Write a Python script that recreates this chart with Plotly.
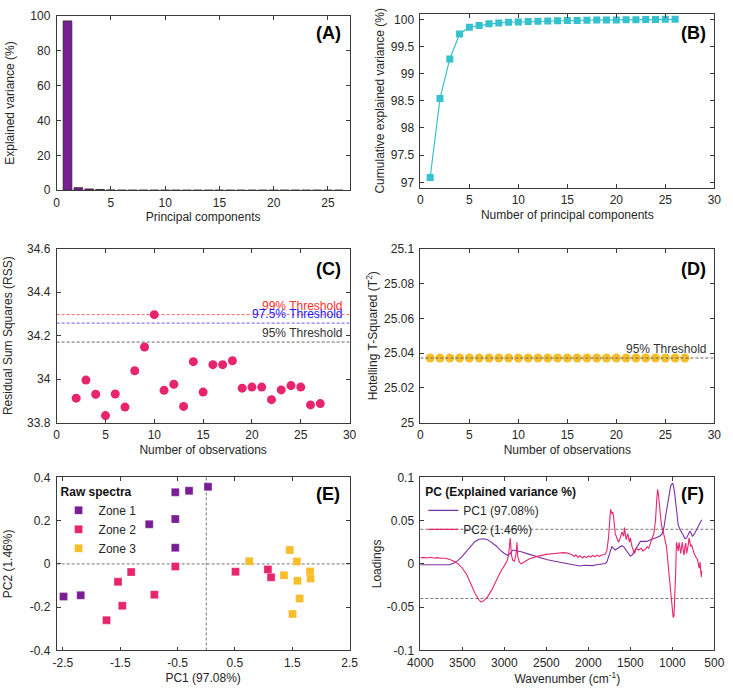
import plotly.graph_objects as go

W, H = 733, 695

# ---------------- Data ----------------
pc_index = list(range(1, 27))
explained_var = [97.08, 1.46, 0.74, 0.45, 0.13, 0.03, 0.03, 0.02, 0.012, 0.006, 0.006, 0.005,
                 0.005, 0.003, 0.004, 0.003, 0.003, 0.003, 0.002, 0.002, 0.002, 0.002, 0.002,
                 0.002, 0.001, 0.001]
cumulative_var = [97.09, 98.545, 99.27, 99.73, 99.855, 99.885, 99.916, 99.934, 99.946, 99.952,
                  99.958, 99.963, 99.968, 99.972, 99.976, 99.979, 99.982, 99.985, 99.987, 99.989,
                  99.991, 99.993, 99.995, 99.997, 99.999, 100.0]

rss_obs = list(range(2, 28))
rss_vals = [33.913, 33.996, 33.931, 33.833, 33.932, 33.872, 34.039, 34.148, 34.297, 33.949,
            33.977, 33.875, 34.081, 33.941, 34.067, 34.067, 34.085, 33.959, 33.964, 33.964,
            33.906, 33.951, 33.971, 33.964, 33.882, 33.888]
rss_thr_99 = 34.297
rss_thr_975 = 34.258
rss_thr_95 = 34.171

t2_obs = list(range(1, 28))
t2_vals = [25.0372] * 27
t2_thr_95 = 25.0372

zone1_pc1 = [0.03, -0.30, -0.54, -0.54, -0.995, -0.54, -2.49, -2.19]
zone1_pc2 = [0.356, 0.338, 0.331, 0.207, 0.183, 0.075, -0.151, -0.145]
zone2_pc1 = [-0.54, -1.31, -1.54, -0.905, -1.465, -1.74, 0.51, 1.075, 1.13]
zone2_pc2 = [-0.012, -0.038, -0.083, -0.142, -0.193, -0.26, -0.036, -0.026, -0.062]
zone3_pc1 = [0.75, 1.455, 1.58, 1.355, 1.59, 1.81, 1.82, 1.63, 1.505]
zone3_pc2 = [0.012, 0.064, 0.011, -0.053, -0.078, -0.035, -0.068, -0.16, -0.231]

pc1_wn = [4000, 3900, 3800, 3700, 3650, 3600, 3550, 3500, 3450, 3400, 3350, 3300, 3250, 3200,
          3150, 3100, 3050, 3000, 2960, 2930, 2900, 2850, 2800, 2700, 2600, 2500, 2400, 2300,
          2200, 2150, 2100, 2050, 2000, 1950, 1900, 1850, 1800, 1780, 1760, 1740, 1720, 1700,
          1680, 1650, 1620, 1600, 1580, 1550, 1520, 1500, 1480, 1450, 1420, 1400, 1380, 1350,
          1300, 1280, 1250, 1200, 1150, 1120, 1100, 1080, 1060, 1040, 1020, 1000, 990, 970,
          950, 930, 910, 890, 870, 850, 830, 810, 790, 780, 760, 740, 720, 700, 680, 660, 650]
pc1_load = [-0.001, -0.0012, -0.0015, -0.0015, -0.001, 0.001, 0.004, 0.009, 0.015, 0.021,
            0.026, 0.0285, 0.029, 0.028, 0.025, 0.021, 0.016, 0.012, 0.010, 0.012, 0.016,
            0.015, 0.014, 0.011, 0.008, 0.005, 0.003, 0.001, -0.001, -0.002, -0.0025, -0.0015,
            -0.002, -0.002, -0.001, 0.0, 0.0005, 0.002, 0.008, 0.015, 0.020, 0.018, 0.016,
            0.018, 0.020, 0.021, 0.020, 0.016, 0.012, 0.009, 0.010, 0.015, 0.020, 0.024, 0.026,
            0.026, 0.026, 0.027, 0.028, 0.030, 0.032, 0.035, 0.042, 0.055, 0.068, 0.080, 0.090,
            0.093, 0.092, 0.080, 0.060, 0.045, 0.040, 0.037, 0.033, 0.029, 0.030, 0.034, 0.038,
            0.036, 0.032, 0.034, 0.038, 0.042, 0.046, 0.049, 0.051]

pc2_wn = [4000, 3960, 3920, 3880, 3840, 3800, 3760, 3720, 3700, 3650, 3600, 3550, 3500, 3450,
          3400, 3350, 3300, 3280, 3250, 3200, 3150, 3100, 3050, 3000, 2970, 2950, 2930, 2915,
          2900, 2880, 2860, 2850, 2840, 2820, 2800, 2750, 2700, 2600, 2500, 2400, 2300, 2250,
          2200, 2170, 2150, 2120, 2100, 2070, 2050, 2020, 2000, 1970, 1950, 1920, 1900, 1870,
          1850, 1800, 1780, 1760, 1745, 1735, 1720, 1710, 1700, 1690, 1680, 1660, 1640, 1620,
          1600, 1580, 1570, 1550, 1530, 1510, 1500, 1480, 1450, 1430, 1400, 1370, 1350, 1320,
          1300, 1280, 1260, 1240, 1220, 1200, 1185, 1175, 1165, 1150, 1130, 1110, 1090, 1070,
          1060, 1050, 1040, 1030, 1020, 1010, 1000, 990, 980, 970, 960, 955, 950, 940, 930,
          920, 910, 900, 890, 880, 870, 860, 850, 840, 830, 820, 810, 800, 790, 780, 770, 760,
          740, 720, 700, 690, 680, 670, 660, 655, 650]
pc2_load = [0.007, 0.0075, 0.0068, 0.0076, 0.0069, 0.0072, 0.0066, 0.0071, 0.0065, 0.005,
            0.003, 0.0, -0.005, -0.012, -0.022, -0.034, -0.042, -0.044, -0.043, -0.038, -0.030,
            -0.020, -0.010, -0.002, 0.003, 0.010, 0.030, 0.010, 0.004, 0.003, 0.012, 0.025,
            0.008, 0.002, 0.0, 0.003, 0.006, 0.009, 0.011, 0.012, 0.013, 0.0125, 0.011, 0.0085,
            0.0105, 0.0075, 0.0095, 0.0068, 0.0088, 0.0072, 0.0092, 0.0078, 0.0098, 0.0082,
            0.0102, 0.0088, 0.010, 0.011, 0.015, 0.030, 0.055, 0.063, 0.058, 0.060, 0.055, 0.045,
            0.035, 0.030, 0.025, 0.030, 0.037, 0.032, 0.042, 0.028, 0.035, 0.025, 0.030, 0.020,
            0.012, 0.018, 0.016, 0.018, 0.015, 0.017, 0.020, 0.018, 0.025, 0.030, 0.035, 0.050,
            0.075, 0.086, 0.080, 0.060, 0.045, 0.038, 0.030, 0.020, 0.010, 0.0, -0.010, -0.020,
            -0.030, -0.040, -0.052, -0.062, -0.060, -0.040, -0.010, 0.010, 0.025, 0.020, 0.015,
            0.025, 0.018, 0.012, 0.020, 0.025, 0.015, 0.010, 0.020, 0.024, 0.012, 0.016, 0.022,
            0.030, 0.025, 0.020, 0.022, 0.018, 0.012, 0.008, 0.005, 0.0, -0.005, 0.002, -0.008,
            -0.015, -0.008]
loading_thr = 0.04

# ---------------- Styling ----------------
FONT = "Arial, Liberation Sans, Helvetica, sans-serif"
TXT = "#262626"
PURPLE = "#7B1E96"
PINK = "#E8246F"
YELLOW = "#F7BE2A"
CYAN = "#35C2CE"


def px_x(p):
    return p / W


def px_y(p):
    return 1 - p / H


fig = go.Figure()

# Panel A
fig.add_trace(go.Bar(x=pc_index, y=explained_var, width=0.8, marker=dict(color=PURPLE, line=dict(color="#222", width=0.8)),
                     showlegend=False, xaxis="x", yaxis="y"))
# Panel B
fig.add_trace(go.Scatter(x=pc_index, y=cumulative_var, mode="lines+markers", line=dict(color=CYAN, width=1.2),
                         marker=dict(symbol="square", size=7, color=CYAN), showlegend=False, xaxis="x2", yaxis="y2"))
# Panel C thresholds (below markers)
for val, col in [(rss_thr_99, "#FF6060"), (rss_thr_975, "#5A5AFF"), (rss_thr_95, "#666666")]:
    fig.add_trace(go.Scatter(x=[0, 30], y=[val, val], mode="lines", line=dict(color=col, width=1, dash="3px,2px"),
                             showlegend=False, xaxis="x3", yaxis="y3", hoverinfo="skip"))
fig.add_trace(go.Scatter(x=rss_obs, y=rss_vals, mode="markers", marker=dict(size=9, color=PINK),
                         showlegend=False, xaxis="x3", yaxis="y3"))
# Panel D
fig.add_trace(go.Scatter(x=t2_obs, y=t2_vals, mode="markers", marker=dict(size=9, color=YELLOW),
                         showlegend=False, xaxis="x4", yaxis="y4"))
fig.add_trace(go.Scatter(x=[0, 30], y=[t2_thr_95, t2_thr_95], mode="lines", line=dict(color="#666666", width=1, dash="3px,2px"),
                         showlegend=False, xaxis="x4", yaxis="y4", hoverinfo="skip"))
# Panel E
for name, xs, ys, col in [("Zone 1", zone1_pc1, zone1_pc2, PURPLE), ("Zone 2", zone2_pc1, zone2_pc2, PINK),
                          ("Zone 3", zone3_pc1, zone3_pc2, YELLOW)]:
    fig.add_trace(go.Scatter(x=xs, y=ys, mode="markers", name=name,
                             marker=dict(symbol="square", size=8, color=col, line=dict(color="rgba(255,255,255,0.6)", width=0.5)),
                             xaxis="x5", yaxis="y5", legend="legend"))
# Panel F
fig.add_trace(go.Scatter(x=pc1_wn, y=pc1_load, mode="lines", name="PC1 (97.08%)", line=dict(color="#7D2FA6", width=1.1),
                         xaxis="x6", yaxis="y6", legend="legend2"))
fig.add_trace(go.Scatter(x=pc2_wn, y=pc2_load, mode="lines", name="PC2 (1.46%)", line=dict(color=PINK, width=1.1),
                         xaxis="x6", yaxis="y6", legend="legend2"))

# ---------------- Axes ----------------
left_dom = [px_x(45), px_x(347)]
right_dom = [px_x(420), px_x(723)]
rowA = [px_y(187), px_y(9)]
rowB = [px_y(184.5), px_y(7)]
row2 = [px_y(424.3), px_y(246.7)]
row3 = [px_y(656.7), px_y(480)]


def ax(domain, anchor, title, rng, tickvals, ticktext=None, is_y=False, standoff=None):
    d = dict(domain=domain, anchor=anchor, range=rng, showline=True, mirror="ticks", linecolor="#3a3a3a",
             linewidth=0.8, ticks="inside", ticklen=4, tickcolor="#3a3a3a", tickwidth=0.8,
             showgrid=False, zeroline=False, tickvals=tickvals,
             ticklabelstandoff=(3 if is_y else 1),
             tickfont=dict(family=FONT, size=12, color=TXT),
             title=dict(text=title, font=dict(family=FONT, size=12, color=TXT),
                        standoff=(standoff if standoff is not None else 4)))
    if ticktext is not None:
        d["ticktext"] = ticktext
    return d


fig.update_layout(
    xaxis=ax(left_dom, "y", "Principal components", [0, 27], [0, 5, 10, 15, 20, 25]),
    yaxis=ax(rowA, "x", "Explained variance (%)", [0, 100], [0, 20, 40, 60, 80, 100], is_y=True, standoff=13),
    xaxis2=ax(right_dom, "y2", "Number of principal components", [0, 30], [0, 5, 10, 15, 20, 25, 30]),
    yaxis2=ax(rowB, "x2", "Cumulative explained variance (%)", [96.9, 100.1],
              [97, 97.5, 98, 98.5, 99, 99.5, 100], ["97", "97.5", "98", "98.5", "99", "99.5", "100"], is_y=True,
              standoff=3),
    xaxis3=ax(left_dom, "y3", "Number of observations", [0, 30], [0, 5, 10, 15, 20, 25, 30]),
    yaxis3=ax(row2, "x3", "Residual Sum Squares (RSS)", [33.8, 34.6], [33.8, 34.0, 34.2, 34.4, 34.6],
              ["33.8", "34", "34.2", "34.4", "34.6"], is_y=True, standoff=11),
    xaxis4=ax(right_dom, "y4", "Number of observations", [0, 30], [0, 5, 10, 15, 20, 25, 30]),
    yaxis4=ax(row2, "x4", "Hotelling T-Squared (T<sup>2</sup>)", [25.0, 25.1],
              [25.0, 25.02, 25.04, 25.06, 25.08, 25.1], ["25", "25.02", "25.04", "25.06", "25.08", "25.1"], is_y=True,
              standoff=3),
    xaxis5=ax(left_dom, "y5", "PC1 (97.08%)", [-2.61, 2.5], [-2.5, -1.5, -0.5, 0.5, 1.5, 2.5],
              ["-2.5", "-1.5", "-0.5", "0.5", "1.5", "2.5"]),
    yaxis5=ax(row3, "x5", "PC2 (1.46%)", [-0.4, 0.4], [-0.4, -0.2, 0, 0.2, 0.4], ["-0.4", "-0.2", "0", "0.2", "0.4"],
              is_y=True, standoff=14),
    xaxis6=ax(right_dom, "y6", "Wavenumber (cm<sup>-1</sup>)", [4000, 500],
              [4000, 3500, 3000, 2500, 2000, 1500, 1000, 500]),
    yaxis6=ax(row3, "x6", "Loadings", [-0.1, 0.1], [-0.1, -0.05, 0, 0.05, 0.1], ["-0.1", "-0.05", "0", "0.05", "0.1"],
              is_y=True, standoff=2),
)

# ---------------- Shapes ----------------
dash_line = dict(color="#777", width=1, dash="3px,2px")
shapes = [
    dict(type="line", xref="x5", yref="y5 domain", x0=0, x1=0, y0=0, y1=1, line=dash_line, layer="below"),
    dict(type="line", xref="x5 domain", yref="y5", x0=0, x1=1, y0=0, y1=0, line=dash_line, layer="below"),
    dict(type="line", xref="x6 domain", yref="y6", x0=0, x1=1, y0=loading_thr, y1=loading_thr, line=dash_line,
         layer="below"),
    dict(type="line", xref="x6 domain", yref="y6", x0=0, x1=1, y0=-loading_thr, y1=-loading_thr, line=dash_line,
         layer="below"),
]
fig.update_layout(shapes=shapes)

# ---------------- Annotations ----------------
ann = []
for lbl, x, y in [("(A)", 325.3, 26.7), ("(B)", 701.5, 26.7), ("(C)", 325.3, 267.3), ("(D)", 701.5, 267.3),
                  ("(E)", 325.0, 496.7), ("(F)", 701.0, 496.7)]:
    ann.append(dict(text=f"<b>{lbl}</b>", x=px_x(x), y=px_y(y), xref="paper", yref="paper", showarrow=False,
                    xanchor="center", yanchor="middle", font=dict(family=FONT, size=18, color="#000")))
for txt, val, col in [("99% Threshold", rss_thr_99, "#FF3030"), ("97.5% Threshold", rss_thr_975, "#2020FF"),
                      ("95% Threshold", rss_thr_95, "#333333")]:
    ann.append(dict(text=txt, x=0.983, y=val, xref="x3 domain", yref="y3", showarrow=False, xanchor="right",
                    yanchor="middle", yshift=9, font=dict(family=FONT, size=12, color=col)))
ann.append(dict(text="95% Threshold", x=0.9825, y=t2_thr_95, xref="x4 domain", yref="y4", showarrow=False,
                xanchor="right", yanchor="middle", yshift=9, font=dict(family=FONT, size=12, color="#333333")))
fig.update_layout(annotations=ann)

fig.update_layout(
    width=W, height=H, margin=dict(l=0, r=0, t=0, b=0), plot_bgcolor="white", paper_bgcolor="white",
    font=dict(family=FONT, size=12, color=TXT),
    legend=dict(x=px_x(47), y=px_y(483), xanchor="left", yanchor="top", bgcolor="rgba(0,0,0,0)",
                title=dict(text="<b>Raw spectra</b>", font=dict(family=FONT, size=12, color="#111")),
                font=dict(family=FONT, size=12, color=TXT), tracegroupgap=0, itemwidth=30),
    legend2=dict(x=px_x(423), y=px_y(483), xanchor="left", yanchor="top", bgcolor="rgba(0,0,0,0)",
                 title=dict(text="<b>PC (Explained variance %)</b>", font=dict(family=FONT, size=12, color="#111")),
                 font=dict(family=FONT, size=12, color=TXT), tracegroupgap=0, itemwidth=30),
)

fig.write_html("out.html")
